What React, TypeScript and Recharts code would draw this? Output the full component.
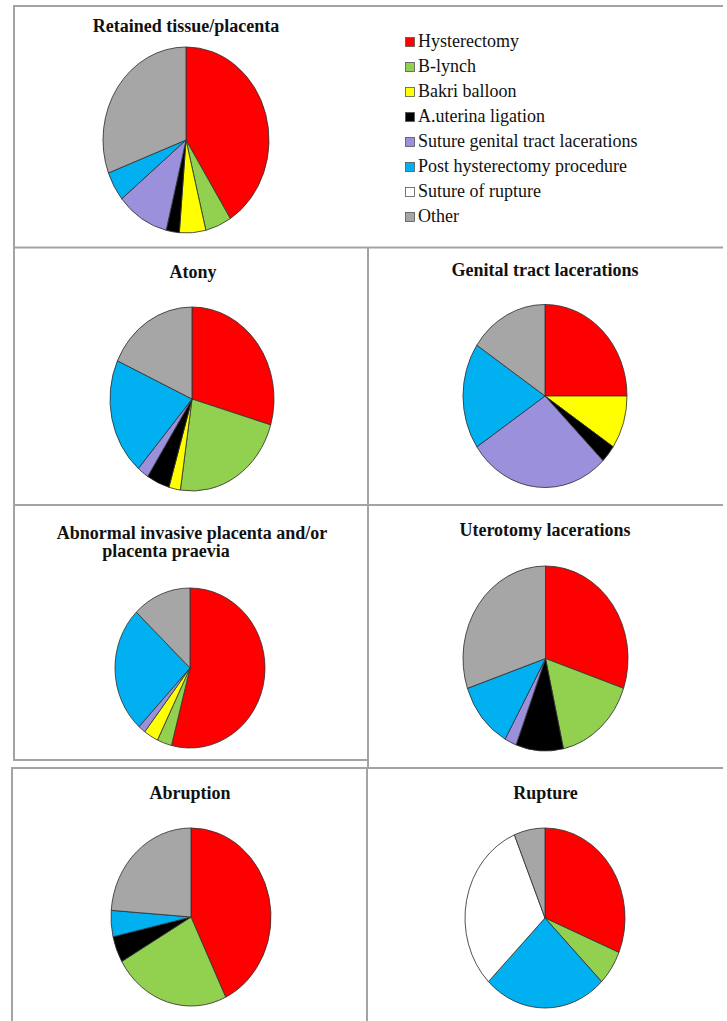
import React from 'react';
import { PieChart, Pie, Cell } from 'recharts';

const categories = [
  'Hysterectomy',
  'B-lynch',
  'Bakri balloon',
  'A.uterina ligation',
  'Suture genital tract lacerations',
  'Post hysterectomy procedure',
  'Suture of rupture',
  'Other',
];
const COLORS = ['#FF0000', '#92D050', '#FFFF00', '#000000', '#9B90DC', '#00B0F0', '#FFFFFF', '#A6A6A6'];

// number of cases per procedure, same order as categories
const retained = [16, 2, 2, 1, 4, 2, 0, 12];
const atony = [13, 10, 1, 2, 1, 9, 0, 8];
const genital = [8, 0, 3, 1, 9, 6, 0, 5];
const abnormal = [34, 2, 2, 0, 1, 16, 0, 8];
const uterotomy = [13, 7, 0, 4, 1, 5, 0, 13];
const abruption = [9, 5, 0, 1, 0, 1, 0, 5];
const rupture = [5, 1, 0, 0, 0, 4, 5, 1];

const FONT = '"Liberation Serif", "Times New Roman", serif';

// pie placement on the page (center, radii) and title lines
const panels = [
  { values: retained, cx: 186, cy: 140, rx: 83, ry: 93, title: [{ text: 'Retained tissue/placenta', x: 186, y: 32 }] },
  { values: atony, cx: 192, cy: 399, rx: 82, ry: 92, title: [{ text: 'Atony', x: 193, y: 278 }] },
  { values: genital, cx: 545, cy: 396, rx: 82, ry: 91.5, title: [{ text: 'Genital tract lacerations', x: 545, y: 276 }] },
  {
    values: abnormal, cx: 190, cy: 668, rx: 75, ry: 80,
    title: [
      { text: 'Abnormal invasive placenta and/or', x: 192, y: 538.5 },
      { text: 'placenta praevia', x: 166, y: 556.5 },
    ],
  },
  { values: uterotomy, cx: 545, cy: 658, rx: 82.5, ry: 92.5, title: [{ text: 'Uterotomy lacerations', x: 545, y: 536 }] },
  { values: abruption, cx: 191, cy: 917, rx: 80, ry: 89, title: [{ text: 'Abruption', x: 190, y: 798.5 }] },
  { values: rupture, cx: 545, cy: 918, rx: 80, ry: 90, title: [{ text: 'Rupture', x: 545.5, y: 798.5 }] },
];

const borders = [
  [13, 6, 723, 6],
  [14, 5, 14, 760],
  [13, 247.5, 723, 247.5],
  [368, 247, 368, 768],
  [13, 505, 723, 505],
  [13, 760, 368, 760],
  [11, 768, 723, 768],
  [12, 768, 12, 1021],
  [367, 768, 367, 1021],
];

function PieBox({ values, cx, cy, rx, ry }: { values: number[]; cx: number; cy: number; rx: number; ry: number }) {
  const data = values
    .map((v, i) => ({ name: categories[i], value: v, color: COLORS[i] }))
    .filter((d) => d.value > 0);
  const size = Math.ceil(rx * 2 + 6);
  return (
    <div
      style={{
        position: 'absolute',
        left: cx - size / 2,
        top: cy - size / 2,
        width: size,
        height: size,
        transform: `scaleY(${ry / rx})`,
        transformOrigin: '50% 50%',
      }}
    >
      <PieChart width={size} height={size} margin={{ top: 0, right: 0, bottom: 0, left: 0 }}>
        <Pie
          data={data}
          dataKey="value"
          nameKey="name"
          cx="50%"
          cy="50%"
          outerRadius={rx}
          startAngle={90}
          endAngle={-270}
          stroke="#333"
          strokeWidth={0.8}
          isAnimationActive={false}
        >
          {data.map((d, i) => (
            <Cell key={`cell-${i}`} fill={d.color} />
          ))}
        </Pie>
      </PieChart>
    </div>
  );
}

export default function App() {
  return (
    <div style={{ position: 'absolute', left: 0, top: 0, width: 727, height: 1021, background: '#fff', overflow: 'hidden' }}>
      <svg width={727} height={1021} style={{ position: 'absolute', left: 0, top: 0 }}>
        {borders.map(([x1, y1, x2, y2], i) => (
          <line key={i} x1={x1} y1={y1} x2={x2} y2={y2} stroke="#a3a3a3" strokeWidth={2} />
        ))}
        {panels.map((p, i) =>
          p.title.map((t, j) => (
            <text
              key={`t-${i}-${j}`}
              x={t.x}
              y={t.y}
              textAnchor="middle"
              fontFamily={FONT}
              fontWeight="bold"
              fontSize={18}
              fill="#111"
            >
              {t.text}
            </text>
          ))
        )}
        {categories.map((c, i) => (
          <g key={c}>
            <rect x={405.5} y={37.5 + i * 25} width={9} height={9} fill={COLORS[i]} stroke="#555" strokeWidth={0.8} />
            <text x={418} y={47 + i * 25} fontFamily={FONT} fontSize={18} fill="#111">
              {c}
            </text>
          </g>
        ))}
      </svg>
      {panels.map((p, i) => (
        <PieBox key={i} values={p.values} cx={p.cx} cy={p.cy} rx={p.rx} ry={p.ry} />
      ))}
    </div>
  );
}
